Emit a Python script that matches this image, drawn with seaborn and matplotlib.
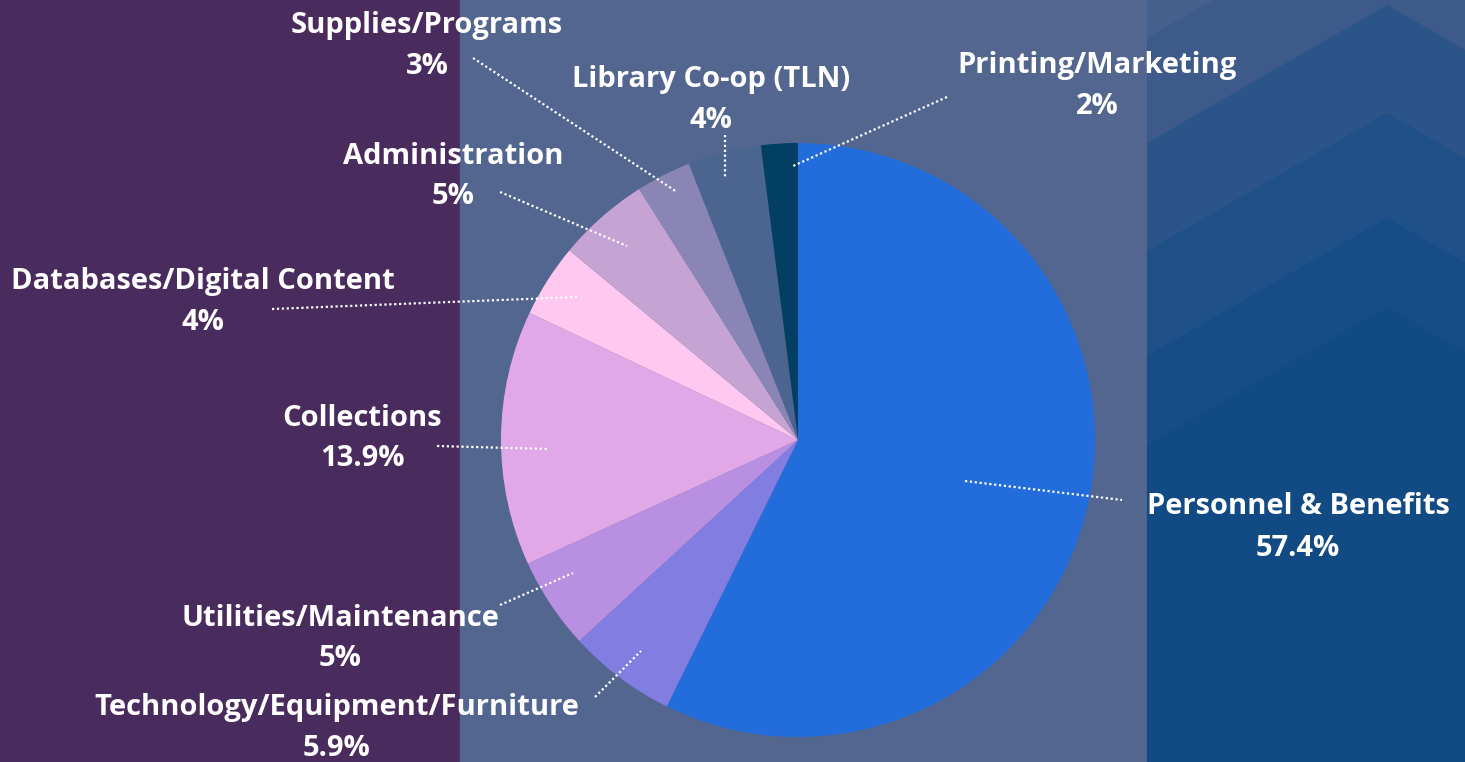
import numpy as np
import matplotlib.pyplot as plt
from matplotlib.patches import Rectangle, Polygon
import seaborn as sns

# budget shares, clockwise from 12 o'clock
categories = ['Personnel & Benefits', 'Technology/Equipment/Furniture', 'Utilities/Maintenance',
              'Collections', 'Databases/Digital Content', 'Administration',
              'Supplies/Programs', 'Library Co-op (TLN)', 'Printing/Marketing']
shares = [57.4, 5.9, 5, 13.9, 4, 5, 3, 4, 2]
pct_labels = ['57.4%', '5.9%', '5%', '13.9%', '4%', '5%', '3%', '4%', '2%']
slice_colors = ['#236cdb', '#827de0', '#b98fe2', '#e0a8e6', '#fec8f0',
                '#c5a3d3', '#8a85b5', '#4c6590', '#023f63']

sns.set_theme(style='white')
plt.rcParams['font.family'] = ['Open Sans', 'DejaVu Sans']

W, H = 1465, 762
fig = plt.figure(figsize=(14.65, 7.62), dpi=100)
ax = fig.add_axes([0, 0, 1, 1])

def Y(py):
    return H - py

# background panels
ax.add_patch(Rectangle((0, 0), 460, H, color='#4a2b5e', zorder=0))
ax.add_patch(Rectangle((460, 0), 1147 - 460, H, color='#53668f', zorder=0))
# right panel with chevrons
chev = ['#46608e', '#3d5a8b', '#2b5489', '#1f5088', '#174d87', '#124a84']
ax.add_patch(Rectangle((1147, 0), W - 1147, H, color=chev[0], zorder=0))
apex_x, slope = 1387, 0.575
for i, top in enumerate([-100, 5, 113, 218, 307]):
    left_y = top + (apex_x - 1147) * slope
    right_y = top + (W - apex_x) * slope
    pts = [(1147, Y(left_y)), (apex_x, Y(top)), (W, Y(right_y)), (W, 0), (1147, 0)]
    ax.add_patch(Polygon(pts, closed=True, color=chev[i + 1], zorder=0.5, lw=0))

cx, cy, r = 798, 440, 297
ax.pie(shares, colors=slice_colors, startangle=90, counterclock=False,
       center=(cx, Y(cy)), radius=r, frame=True,
       wedgeprops=dict(linewidth=0, zorder=2))

# label text (name, pct) positions
label_pos = [(1298, 507), (337, 707), (340, 618), (362, 418), (203, 281),
             (453, 156), (427, 25), (711, 79), (1097, 66)]
leaders = [((965, 481), (1122, 500)), ((595, 697), (641, 651)), ((500, 605), (573, 573)),
           ((437, 446), (548, 449)), ((272, 309), (577, 297)), ((500, 192), (627, 246)),
           ((473, 58), (677, 192)), ((725, 135), (725, 177)), ((947, 97), (793, 166))]

for name, pct, (lx, ly), (p0, p1) in zip(categories, pct_labels, label_pos, leaders):
    ax.text(lx, Y(ly), name, color='white', fontsize=21, fontweight='bold',
            ha='center', va='center', zorder=5)
    ax.text(lx, Y(ly + 41), pct, color='white', fontsize=21, fontweight='bold',
            ha='center', va='center', zorder=5)
    ax.plot([p0[0], p1[0]], [Y(p0[1]), Y(p1[1])], color='white', lw=1.6,
            ls=(0, (1, 1.2)), zorder=4)

ax.set_xlim(0, W)
ax.set_ylim(0, H)
ax.set_aspect('auto')
ax.set_xticks([])
ax.set_yticks([])
for s in ax.spines.values():
    s.set_visible(False)

fig.savefig('out.png', dpi=100)
